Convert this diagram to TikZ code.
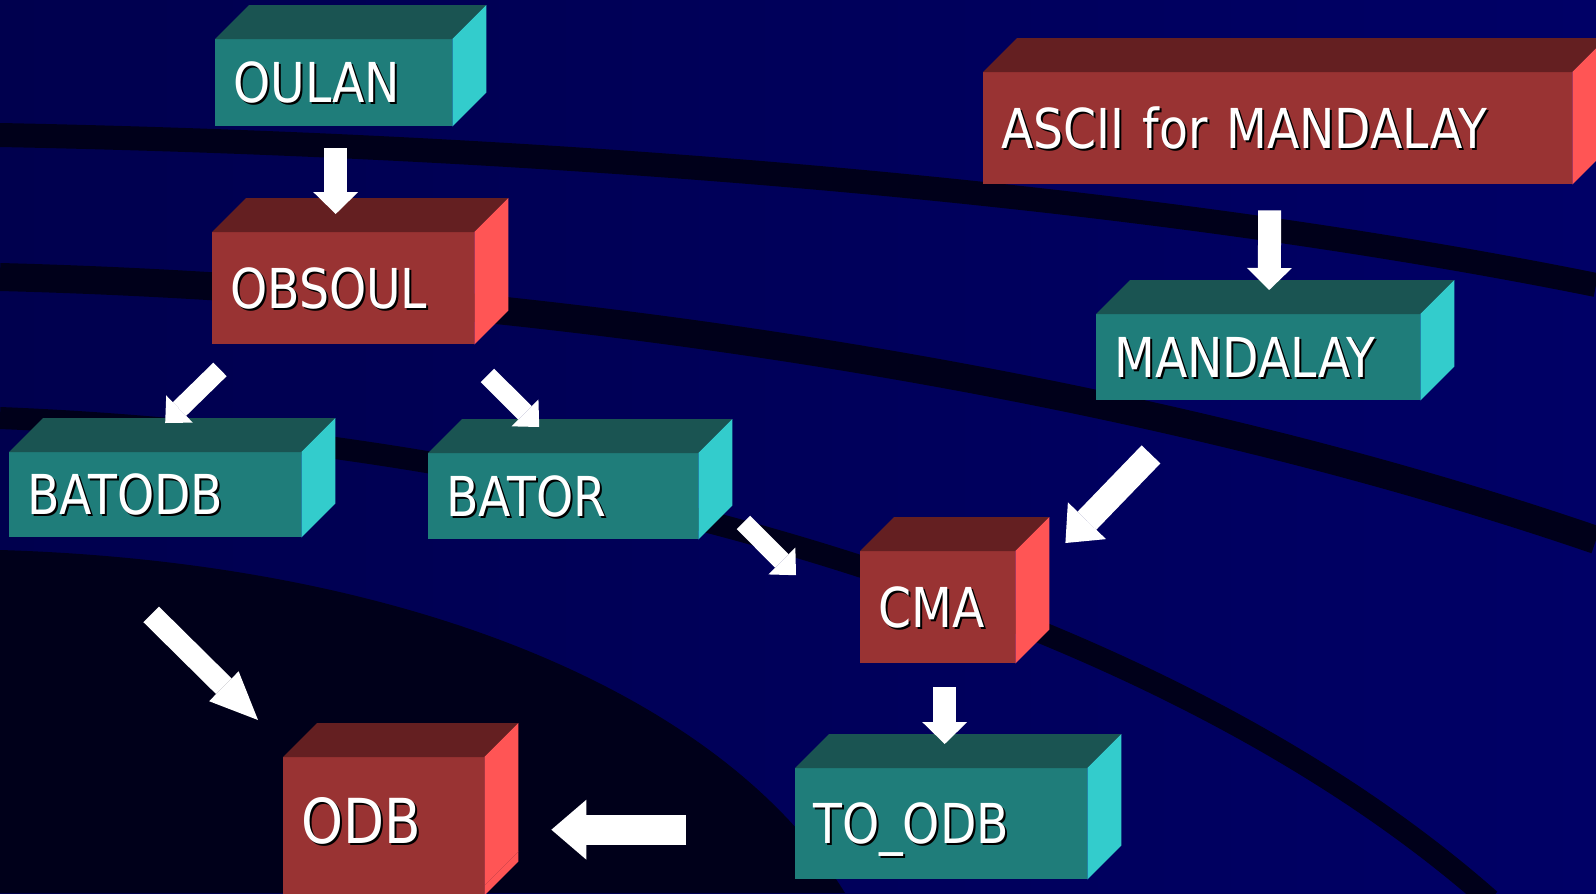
\documentclass[tikz,border=0pt]{standalone}
\usepackage{fontspec}
\newfontfamily\boxfont[FakeStretch=0.86]{DejaVu Sans}
\usetikzlibrary{arrows.meta}

\definecolor{tealfront}{RGB}{31,125,122}
\definecolor{tealtop}{RGB}{26,84,82}
\definecolor{tealside}{RGB}{51,204,204}
\definecolor{redfront}{RGB}{153,51,51}
\definecolor{redtop}{RGB}{100,31,33}
\definecolor{redside}{RGB}{255,85,85}
\definecolor{navyleft}{RGB}{0,0,78}
\definecolor{navyright}{RGB}{0,0,102}
\definecolor{navydark}{RGB}{0,0,26}

\newcommand{\txtshd}[1]{\rlap{\kern2bp\raisebox{-2bp}{\color{black}#1}}#1}

\tikzset{
  box/.style 2 args={anchor=north west,minimum width=#1,minimum height=#2,
    text width=#1-36bp,inner xsep=18bp,inner ysep=0pt,align=left,
    font={\boxfont\fontsize{55bp}{60bp}\selectfont},text=white,
    text height=40bp,text depth=0pt},
  tbox/.style={fill=tealfront},
  rbox/.style={fill=redfront},
  band/.style={draw=navydark},
  arrv/.style={draw=white,line width=23bp,-{Triangle[width=45bp,length=22bp,line width=0pt]}},
  arrs/.style={draw=white,line width=19bp,-{Triangle[width=38bp,length=20bp,line width=0pt]}},
  arrd/.style={draw=white,line width=26bp,-{Triangle[width=53bp,length=31bp,line width=0pt]}},
  arrlong/.style={draw=white,line width=22bp,-{Triangle[width=42bp,length=48bp,line width=0pt]}},
  arrl/.style={draw=white,line width=30bp,-{Triangle[width=60bp,length=35bp,line width=0pt]}}
}

\begin{document}
\begin{tikzpicture}[x=1bp,y=-1bp]
  \useasboundingbox (0,0) rectangle (1596,893);
  \clip (0,0) rectangle (1596,893);

  % background
  \shade[left color=navyleft,right color=navyright] (0,0) rectangle (1596,893);
  \draw[band,line width=24bp] (0,135) .. controls (500,145) and (1100,185) .. (1596,285);
  \draw[band,line width=28bp] (0,277) .. controls (500,290) and (1100,370) .. (1596,540);
  \draw[band,line width=22bp] (0,418) .. controls (550,440) and (1150,600) .. (1490,900);
  \fill[navydark] (0,550) .. controls (400,562) and (720,690) .. (845,893) -- (0,893) -- cycle;

  % boxes
  \node[box={237bp}{87bp},tbox] (oulan) at (215,39) {\txtshd{OULAN}};
  \node[box={262bp}{112bp},rbox] (obsoul) at (212,232) {\txtshd{OBSOUL}};
  \node[box={292bp}{85bp},tbox] (batodb) at (9,452) {\txtshd{BATODB}};
  \node[box={270bp}{86bp},tbox] (bator) at (428,453) {\txtshd{BATOR}};
  \node[box={589bp}{112bp},rbox] (ascii) at (983,72) {\txtshd{ASCII for MANDALAY}};
  \node[box={324bp}{86bp},tbox] (mandalay) at (1096,314) {\txtshd{MANDALAY}};
  \node[box={155bp}{112bp},rbox] (cma) at (860,551) {\txtshd{CMA}};
  \node[box={292bp}{111bp},tbox] (toodb) at (795,768) {\txtshd{TO\_ODB}};
  \node[box={201bp}{128bp},rbox,font={\boxfont\fontsize{62bp}{66bp}\selectfont},
    text height=45bp] (odb) at (283,757) {\txtshd{ODB}};

  % top and side faces
  \foreach \bx/\tp/\sd in {oulan/tealtop/tealside,obsoul/redtop/redside,
      batodb/tealtop/tealside,bator/tealtop/tealside,ascii/redtop/redside,
      mandalay/tealtop/tealside,cma/redtop/redside,toodb/tealtop/tealside,
      odb/redtop/redside}{
    \fill[fill=\tp] (\bx.north west) -- ++(34,-34) -- ([shift={(34,-34)}]\bx.north east) -- (\bx.north east) -- cycle;
    \fill[fill=\sd] (\bx.north east) -- ++(34,-34) -- ([shift={(34,-34)}]\bx.south east) -- (\bx.south east) -- cycle;
  }
  \fill[redfront] (odb.south west) rectangle ([shift={(0,10)}]odb.south east);
  \fill[redside] (odb.south east) -- ++(34,-34) -- ++(0,10) -- ++(-34,34) -- cycle;

  % arrows
  \draw[arrv] ([shift={(2,22)}]oulan.south) -- ([shift={(2,-18)}]oulan.south |- obsoul.north);
  \draw[arrs] ([shift={(8,25)}]obsoul.south west) -- ([shift={(10,-29)}]batodb.north);
  \draw[arrs] ([shift={(13,31)}]obsoul.south east) -- ([shift={(-24,-26)}]bator.north);
  \draw[arrv] ([shift={(-8,26)}]ascii.south) -- ([shift={(11,-24)}]mandalay.north);
  \draw[arrd] ([shift={(55,54)}]mandalay.south west) -- ([shift={(50,-8)}]cma.north east);
  \draw[arrs] ([shift={(45,-17)}]bator.south east) -- ([shift={(-64,-32)}]cma.west);
  \draw[arrlong] ([shift={(-4,77)}]batodb.south) -- ([shift={(-25,-37)}]odb.north west);
  \draw[arrv] ([shift={(7,24)}]cma.south) -- ([shift={(7,-24)}]cma.south |- toodb.north);
  \draw[arrl] ([shift={(-109,6)}]toodb.west) -- ([shift={(67,6)}]odb.east |- toodb.west);
\end{tikzpicture}
\end{document}
